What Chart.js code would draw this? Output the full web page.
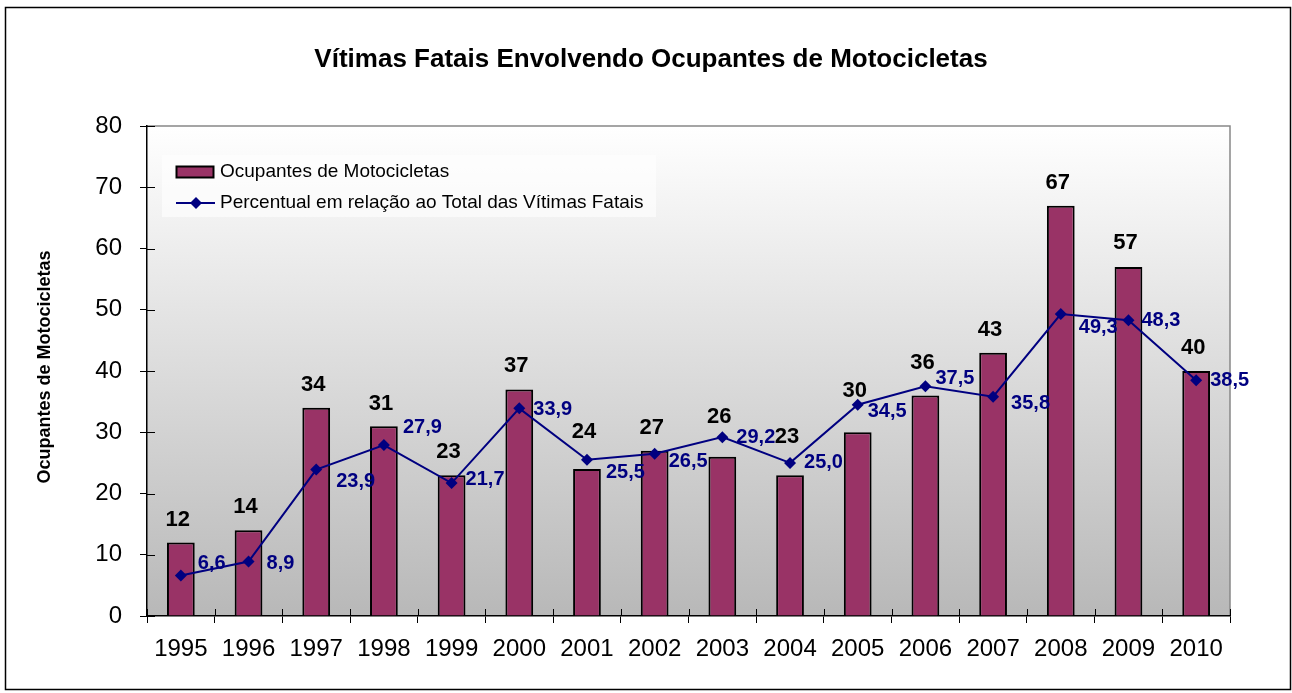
<!DOCTYPE html>
<html>
<head>
<meta charset="utf-8">
<script src="https://cdn.jsdelivr.net/npm/chart.js@4.4.0/dist/chart.umd.min.js"></script>
<style>
    html, body { margin: 0; padding: 0; background: #fff; }
    #wrap { width: 1292px; height: 693px; }
</style>
</head>
<body>
<div id="wrap"><canvas id="grafico" width="1292" height="693"></canvas></div>
<script>
// Dados
const anos = ['1995', '1996', '1997', '1998', '1999', '2000', '2001', '2002',
    '2003', '2004', '2005', '2006', '2007', '2008', '2009', '2010'];
const ocupantes = [12, 14, 34, 31, 23, 37, 24, 27, 26, 23, 30, 36, 43, 67, 57, 40];
const percentual = [6.6, 8.9, 23.9, 27.9, 21.7, 33.9, 25.5, 26.5, 29.2, 25.0, 34.5, 37.5, 35.8, 49.3, 48.3, 38.5];
const yTicks = [0, 10, 20, 30, 40, 50, 60, 70, 80];

// Deslocamento dos rótulos (posição manual como no Excel)
const barLabelDy = [-23, -23, -23, -22, -23, -23, -37, -23, -40, -38, -41, -33, -23, -23, -24, -23];
const pctLabelDx = [17, 18, 20, 19, 14, 14, 19, 14, 14, 14, 10, 10, 18, 18, 13, 14];
const pctLabelDy = [-12, 2, 12, -18, -4, 1, 13, 8, 0, 0, 7, -8, 7, 13, 0, 0];

const corBarra = '#993366';
const corLinha = '#000080';
const fonte = '"Liberation Sans", Arial, sans-serif';

function losango(ctx, x, y, r) {
    ctx.beginPath();
    ctx.moveTo(x, y - r);
    ctx.lineTo(x + r, y);
    ctx.lineTo(x, y + r);
    ctx.lineTo(x - r, y);
    ctx.closePath();
    ctx.fill();
}

const decor = {
    id: 'decor',
    beforeDraw(chart) {
        const { ctx, chartArea: a } = chart;
        ctx.save();
        ctx.fillStyle = '#fff';
        ctx.fillRect(0, 0, chart.width, chart.height);
        const g = ctx.createLinearGradient(0, a.top, 0, a.bottom);
        g.addColorStop(0, '#ffffff');
        g.addColorStop(1, '#b8b8b8');
        ctx.fillStyle = g;
        ctx.fillRect(a.left, a.top, a.right - a.left, a.bottom - a.top);
        // borda cinza superior e direita da área de plotagem
        ctx.strokeStyle = '#888';
        ctx.lineWidth = 1.5;
        ctx.beginPath();
        ctx.moveTo(a.left, a.top);
        ctx.lineTo(a.right, a.top);
        ctx.lineTo(a.right, a.bottom);
        ctx.stroke();
        ctx.restore();
    },
    afterDraw(chart) {
        const { ctx, chartArea: a } = chart;
        const xs = chart.scales.x, ys = chart.scales.y;
        ctx.save();

        // marcas internas dos eixos
        ctx.strokeStyle = '#000';
        ctx.lineWidth = 1;
        ctx.beginPath();
        yTicks.forEach(v => {
            const y = Math.round(ys.getPixelForValue(v)) + 0.5;
            ctx.moveTo(a.left, y);
            ctx.lineTo(a.left + 8, y);
        });
        const passo = xs.getPixelForValue(1) - xs.getPixelForValue(0);
        for (let i = 0; i <= anos.length; i++) {
            const x = Math.round(xs.getPixelForValue(0) - passo / 2 + i * passo) + 0.5;
            ctx.moveTo(x, a.bottom - 7);
            ctx.lineTo(x, a.bottom);
        }
        ctx.stroke();

        // rótulos das barras
        const barras = chart.getDatasetMeta(0).data;
        ctx.fillStyle = '#000';
        ctx.font = 'bold 22px ' + fonte;
        ctx.textAlign = 'center';
        ctx.textBaseline = 'middle';
        barras.forEach((b, i) => {
            ctx.fillText(String(ocupantes[i]), b.x - 3, b.y + barLabelDy[i]);
        });

        // rótulos da linha
        const pontos = chart.getDatasetMeta(1).data;
        ctx.fillStyle = corLinha;
        ctx.font = 'bold 20px ' + fonte;
        ctx.textAlign = 'left';
        pontos.forEach((p, i) => {
            const txt = percentual[i].toFixed(1).replace('.', ',');
            ctx.fillText(txt, p.x + pctLabelDx[i], p.y + pctLabelDy[i]);
        });

        // título
        ctx.fillStyle = '#000';
        ctx.textAlign = 'center';
        ctx.font = 'bold 26px ' + fonte;
        ctx.fillText('Vítimas Fatais Envolvendo Ocupantes de Motocicletas', 651, 60);

        // título do eixo y
        ctx.save();
        ctx.translate(45, 367);
        ctx.rotate(-Math.PI / 2);
        ctx.font = 'bold 18px ' + fonte;
        ctx.fillText('Ocupantes de Motocicletas', 0, 0);
        ctx.restore();

        // legenda
        ctx.fillStyle = 'rgba(255,255,255,0.6)';
        ctx.fillRect(162, 155, 494, 62);
        ctx.fillStyle = corBarra;
        ctx.fillRect(176.5, 166.5, 37, 11);
        ctx.strokeStyle = '#000';
        ctx.lineWidth = 2;
        ctx.strokeRect(176.5, 166.5, 37, 11);
        ctx.strokeStyle = corLinha;
        ctx.lineWidth = 2;
        ctx.beginPath();
        ctx.moveTo(176, 203);
        ctx.lineTo(215, 203);
        ctx.stroke();
        ctx.fillStyle = corLinha;
        losango(ctx, 196, 203, 6);
        ctx.fillStyle = '#000';
        ctx.textAlign = 'left';
        ctx.font = '19px ' + fonte;
        ctx.fillText('Ocupantes de Motocicletas', 220, 172);
        ctx.fillText('Percentual em relação ao Total das Vítimas Fatais', 220, 203);

        // moldura externa
        ctx.strokeStyle = '#000';
        ctx.lineWidth = 1.5;
        ctx.strokeRect(5.5, 7.5, 1285, 682);
        ctx.restore();
    }
};

new Chart(document.getElementById('grafico'), {
    type: 'bar',
    data: {
        labels: anos,
        datasets: [{
            type: 'bar',
            label: 'Ocupantes de Motocicletas',
            data: ocupantes,
            backgroundColor: corBarra,
            borderColor: '#000',
            borderWidth: 2,
            barPercentage: 0.41,
            categoryPercentage: 1,
            order: 2
        }, {
            type: 'line',
            label: 'Percentual em relação ao Total das Vítimas Fatais',
            data: percentual,
            borderColor: corLinha,
            backgroundColor: corLinha,
            borderWidth: 2,
            pointStyle: 'rectRot',
            pointRadius: 6,
            pointBorderWidth: 0,
            tension: 0,
            order: 1
        }]
    },
    options: {
        responsive: false,
        animation: false,
        devicePixelRatio: 1,
        layout: { padding: { left: 0, top: 126, right: 62, bottom: 0 } },
        plugins: {
            legend: { display: false },
            title: { display: false },
            tooltip: { enabled: false }
        },
        scales: {
            x: {
                offset: true,
                grid: { display: true, drawOnChartArea: false, tickLength: 7, color: '#000', offset: true },
                border: { color: '#000', width: 1.5 },
                ticks: { color: '#000', font: { family: fonte, size: 24 }, padding: 12, autoSkip: false, maxRotation: 0 },
                afterFit(s) { s.height = 77; }
            },
            y: {
                min: 0,
                max: 80,
                afterBuildTicks(s) { s.ticks = yTicks.map(v => ({ value: v })); },
                grid: { display: true, drawOnChartArea: false, tickLength: 7, color: '#000' },
                border: { color: '#000', width: 1.5 },
                ticks: { color: '#000', font: { family: fonte, size: 24 }, padding: 18 },
                afterFit(s) { s.width = 147; }
            }
        }
    },
    plugins: [decor]
});
</script>
</body>
</html>
